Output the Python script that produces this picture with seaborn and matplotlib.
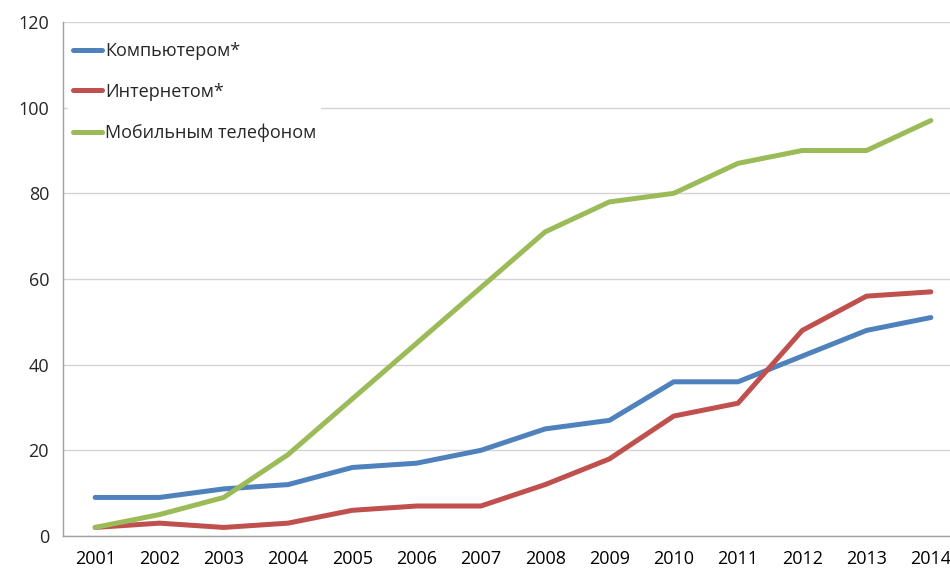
import matplotlib
matplotlib.use("Agg")
import matplotlib.pyplot as plt
import seaborn as sns
import pandas as pd
import numpy as np

years = [str(y) for y in range(2001, 2015)]
computer = [9, 9, 11, 12, 16, 17, 20, 25, 27, 36, 36, 42, 48, 51]
internet = [2, 3, 2, 3, 6, 7, 7, 12, 18, 28, 31, 48, 56, 57]
mobile = [2, 5, 9, 19, 32, 45, 58, 71, 78, 80, 87, 90, 90, 97]
series_names = ["Компьютером*", "Интернетом*", "Мобильным телефоном"]
colors = ["#4F81BD", "#C0504D", "#9BBB59"]

rows = []
for name, vals in zip(series_names, [computer, internet, mobile]):
    for i, (yr, v) in enumerate(zip(years, vals)):
        rows.append({"idx": i, "year": yr, "value": v, "series": name})
df = pd.DataFrame(rows)

sns.set_theme(style="white")
plt.rcParams['font.family'] = ['Open Sans', 'DejaVu Sans']

fig = plt.figure(figsize=(9.5, 5.71), dpi=100)
ax = fig.add_axes([63/950, 35/571, 900/950, 514/571])

sns.lineplot(data=df, x="idx", y="value", hue="series", palette=colors,
             hue_order=series_names, linewidth=3.6, ax=ax, legend=False,
             solid_capstyle="round")

ax.set_xlim(-0.5, 13.5)
ax.set_ylim(0, 120)
ax.set_yticks(range(0, 121, 20))
ax.yaxis.grid(True, color="#D4D4D4", linewidth=1)
ax.set_axisbelow(True)
ax.set_xticks(range(14))
ax.set_xticklabels(years)
ax.set_xticks(np.arange(-0.5, 14, 2), minor=True)
ax.tick_params(axis="x", which="major", length=0, pad=10, labelsize=13, colors="black")
ax.tick_params(axis="x", which="minor", length=6, width=1, color="#A0A0A0", direction="out")
ax.tick_params(axis="y", length=5, width=1, color="#A0A0A0", direction="out", labelsize=13, pad=5)
ax.set_xlabel("")
ax.set_ylabel("")
for s in ["top", "right"]:
    ax.spines[s].set_visible(False)
for s in ["left", "bottom"]:
    ax.spines[s].set_color("#A0A0A0")
    ax.spines[s].set_linewidth(1)

from matplotlib.lines import Line2D
handles = [Line2D([0], [0], color=c, linewidth=3.6, solid_capstyle="round") for c in colors]
leg = ax.legend(handles, series_names, loc="upper left", bbox_to_anchor=(0.0, 0.98),
                fontsize=13, frameon=True, facecolor="white", edgecolor="none",
                framealpha=1, fancybox=False, labelspacing=1.25, handlelength=1.6,
                handletextpad=0.2, borderpad=0.25, borderaxespad=0.3)

fig.savefig("out.png", dpi=100)
